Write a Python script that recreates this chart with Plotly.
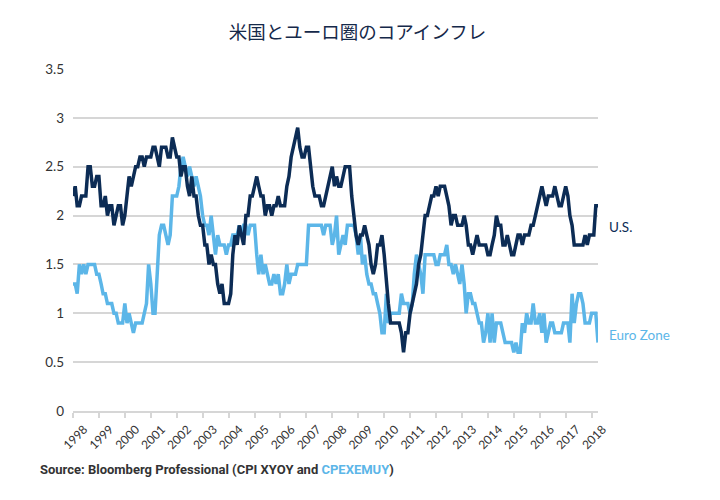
import pandas as pd
import plotly.graph_objects as go

title_text = "米国とユーロ圏のコアインフレ"
start_month = "1998-01-01"
year_ticks = [str(y) for y in range(1998, 2019)]
y_ticks = [0, 0.5, 1, 1.5, 2, 2.5, 3, 3.5]

us_core = [
    2.2, 2.3, 2.1, 2.1, 2.2, 2.2, 2.2, 2.5, 2.5, 2.3, 2.3, 2.4,   # 1998
    2.4, 2.1, 2.1, 2.2, 2.0, 2.1, 2.1, 1.9, 2.0, 2.1, 2.1, 1.9,   # 1999
    2.0, 2.2, 2.4, 2.3, 2.4, 2.5, 2.5, 2.6, 2.6, 2.5, 2.6, 2.6,   # 2000
    2.6, 2.7, 2.7, 2.6, 2.5, 2.7, 2.7, 2.7, 2.6, 2.6, 2.8, 2.7,   # 2001
    2.6, 2.6, 2.4, 2.5, 2.5, 2.3, 2.2, 2.4, 2.2, 2.2, 2.0, 1.9,   # 2002
    1.9, 1.7, 1.7, 1.5, 1.6, 1.5, 1.5, 1.3, 1.2, 1.3, 1.1, 1.1,   # 2003
    1.1, 1.2, 1.6, 1.8, 1.7, 1.9, 1.8, 1.7, 2.0, 2.0, 2.2, 2.2,   # 2004
    2.3, 2.4, 2.3, 2.2, 2.2, 2.0, 2.1, 2.1, 2.0, 2.1, 2.1, 2.2,   # 2005
    2.1, 2.1, 2.1, 2.3, 2.4, 2.6, 2.7, 2.8, 2.9, 2.7, 2.6, 2.6,   # 2006
    2.7, 2.7, 2.5, 2.3, 2.2, 2.2, 2.2, 2.1, 2.1, 2.2, 2.3, 2.4,   # 2007
    2.5, 2.3, 2.4, 2.3, 2.3, 2.4, 2.5, 2.5, 2.5, 2.2, 2.0, 1.8,   # 2008
    1.7, 1.8, 1.8, 1.9, 1.8, 1.7, 1.5, 1.4, 1.5, 1.7, 1.7, 1.8,   # 2009
    1.6, 1.3, 1.1, 0.9, 0.9, 0.9, 0.9, 0.9, 0.8, 0.6, 0.8, 0.8,   # 2010
    1.0, 1.1, 1.2, 1.3, 1.5, 1.6, 1.8, 2.0, 2.0, 2.1, 2.2, 2.2,   # 2011
    2.3, 2.2, 2.3, 2.3, 2.3, 2.2, 2.1, 1.9, 2.0, 2.0, 1.9, 1.9,   # 2012
    1.9, 2.0, 1.9, 1.7, 1.7, 1.6, 1.7, 1.8, 1.7, 1.7, 1.7, 1.7,   # 2013
    1.6, 1.6, 1.7, 1.8, 2.0, 1.9, 1.9, 1.7, 1.7, 1.8, 1.7, 1.6,   # 2014
    1.6, 1.7, 1.8, 1.8, 1.7, 1.8, 1.8, 1.8, 1.9, 1.9, 2.0, 2.1,   # 2015
    2.2, 2.3, 2.2, 2.1, 2.2, 2.2, 2.2, 2.3, 2.2, 2.1, 2.1, 2.2,   # 2016
    2.3, 2.2, 2.0, 1.9, 1.7, 1.7, 1.7, 1.7, 1.7, 1.8, 1.7, 1.8,   # 2017
    1.8, 1.8, 2.1, 2.1,                                           # 2018
]

euro_core = [
    1.3, 1.3, 1.2, 1.5, 1.4, 1.5, 1.4, 1.5, 1.5, 1.5, 1.5, 1.4,   # 1998
    1.4, 1.3, 1.2, 1.2, 1.1, 1.1, 1.1, 1.0, 1.0, 0.9, 0.9, 0.9,   # 1999
    1.1, 0.9, 1.0, 0.9, 0.8, 0.9, 0.9, 0.9, 0.9, 1.0, 1.1, 1.5,   # 2000
    1.3, 1.0, 1.0, 1.4, 1.8, 1.9, 1.9, 1.8, 1.7, 1.8, 2.2, 2.2,   # 2001
    2.2, 2.3, 2.5, 2.6, 2.5, 2.4, 2.5, 2.4, 2.3, 2.4, 2.3, 2.2,   # 2002
    2.0, 1.9, 1.9, 1.8, 2.0, 1.8, 1.6, 1.8, 1.7, 1.7, 1.7, 1.6,   # 2003
    1.7, 1.7, 1.8, 1.8, 1.8, 1.9, 1.8, 1.9, 1.9, 1.8, 1.9, 1.9,   # 2004
    1.9, 1.6, 1.4, 1.6, 1.4, 1.5, 1.4, 1.3, 1.3, 1.4, 1.3, 1.4,   # 2005
    1.2, 1.2, 1.3, 1.5, 1.3, 1.4, 1.4, 1.4, 1.5, 1.5, 1.5, 1.5,   # 2006
    1.5, 1.9, 1.9, 1.9, 1.9, 1.9, 1.9, 1.9, 1.8, 1.9, 1.9, 1.9,   # 2007
    1.7, 1.8, 2.0, 1.6, 1.7, 1.8, 1.7, 1.9, 1.9, 1.9, 1.9, 1.8,   # 2008
    1.6, 1.8, 1.5, 1.6, 1.4, 1.3, 1.3, 1.2, 1.2, 1.1, 1.0, 0.8,   # 2009
    0.8, 1.2, 0.9, 1.0, 1.0, 1.0, 1.0, 1.0, 1.2, 1.1, 1.1, 1.1,   # 2010
    1.0, 1.1, 1.4, 1.6, 1.5, 1.4, 1.2, 1.6, 1.6, 1.6, 1.6, 1.6,   # 2011
    1.5, 1.5, 1.6, 1.6, 1.6, 1.7, 1.5, 1.5, 1.4, 1.5, 1.4, 1.3,   # 2012
    1.5, 1.3, 1.0, 1.2, 1.2, 1.1, 1.1, 1.0, 0.9, 0.9, 0.7, 0.8,   # 2013
    1.0, 0.7, 1.0, 0.7, 0.9, 0.9, 0.9, 0.8, 0.7, 0.7, 0.7, 0.7,   # 2014
    0.6, 0.7, 0.6, 0.6, 0.9, 0.8, 1.0, 0.9, 0.9, 1.1, 0.9, 0.9,   # 2015
    1.0, 0.8, 1.0, 0.7, 0.8, 0.9, 0.9, 0.8, 0.8, 0.8, 0.8, 0.9,   # 2016
    0.9, 0.9, 0.7, 1.2, 0.9, 1.1, 1.2, 1.2, 1.1, 0.9, 0.9, 0.9,   # 2017
    1.0, 1.0, 1.0, 0.7,                                           # 2018
]

us_label = "U.S."
euro_label = "Euro Zone"

NAVY = "#0c2c55"
LIGHT = "#5cb6e8"
GRID = "#d6d6d6"
TEXT = "#333333"
LATIN = "Lato, 'Open Sans', sans-serif"

months = pd.date_range(start_month, periods=len(us_core), freq="MS")
tick_dates = pd.to_datetime([f"{y}-01-01" for y in year_ticks])

fig = go.Figure()
fig.add_trace(go.Scatter(x=months, y=euro_core, mode="lines", name=euro_label,
                         line=dict(color=LIGHT, width=3.5), showlegend=False))
fig.add_trace(go.Scatter(x=months, y=us_core, mode="lines", name=us_label,
                         line=dict(color=NAVY, width=3.5), showlegend=False))

fig.add_annotation(x=1, xref="paper", xshift=9, y=1.88, yref="y", text=us_label,
                   showarrow=False, xanchor="left", yanchor="middle",
                   font=dict(family=LATIN, size=13.5, color=NAVY))
fig.add_annotation(x=1, xref="paper", xshift=9, y=0.78, yref="y", text=euro_label,
                   showarrow=False, xanchor="left", yanchor="middle",
                   font=dict(family=LATIN, size=13.5, color=LIGHT))
fig.add_annotation(x=-0.067, xref="paper", y=-0.172, yref="paper",
                   text=("<b>Source: Bloomberg Professional (CPI XYOY and "
                         f"<span style='color:{LIGHT}'>CPEXEMUY</span>)</b>"),
                   showarrow=False, xanchor="left", yanchor="middle",
                   font=dict(family="Roboto, sans-serif", size=13, color=TEXT))

# the page body has an 8px margin; size the figure so it lands where the reference is
fig.update_layout(
    width=712, height=492,
    margin=dict(l=65, r=122, t=61, b=89),
    paper_bgcolor="white", plot_bgcolor="white",
    title=dict(text=title_text, x=349.5 / 712, xref="container", xanchor="center",
               y=1 - 25 / 492, yref="container", yanchor="middle",
               font=dict(family="'Noto Sans CJK JP', sans-serif", size=18.5, color="#15294a")),
    xaxis=dict(
        range=[months[0], months[-1]], tickvals=tick_dates, ticktext=year_ticks,
        tickangle=-45, tickfont=dict(family=LATIN, size=12, color=TEXT),
        ticklabelshift=11,
        showgrid=False, zeroline=False, showline=True, linecolor=GRID, linewidth=1.5,
        ticks="outside", ticklen=5, tickcolor=GRID, tickwidth=1.5,
    ),
    yaxis=dict(
        range=[0, 3.5], tickvals=y_ticks, tickfont=dict(family=LATIN, size=13.5, color=TEXT),
        showgrid=True, gridcolor=GRID, gridwidth=1.5, zeroline=False, showline=False,
        ticks="", ticklabelstandoff=8,
    ),
)

fig.write_html("out.html")
